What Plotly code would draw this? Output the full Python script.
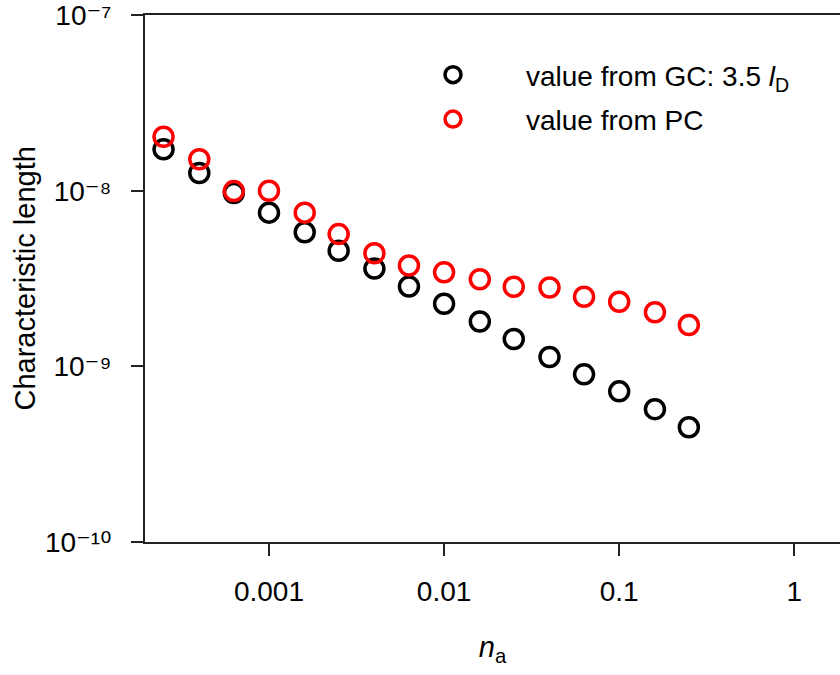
import plotly.graph_objects as go

# Data
n_a = [0.00025, 0.0004, 0.00063, 0.001, 0.0016, 0.0025, 0.004, 0.0063,
       0.01, 0.016, 0.025, 0.04, 0.063, 0.1, 0.16, 0.25]
gc_values = [1.72e-8, 1.26e-8, 9.7e-9, 7.5e-9, 5.8e-9, 4.55e-9, 3.6e-9, 2.85e-9,
             2.27e-9, 1.8e-9, 1.43e-9, 1.13e-9, 9.0e-10, 7.2e-10, 5.7e-10, 4.5e-10]
pc_values = [2.03e-8, 1.51e-8, 9.95e-9, 1.0e-8, 7.5e-9, 5.66e-9, 4.4e-9, 3.75e-9,
             3.43e-9, 3.13e-9, 2.84e-9, 2.81e-9, 2.49e-9, 2.33e-9, 2.03e-9, 1.72e-9]

x_tickvals = [0.001, 0.01, 0.1, 1]
x_ticktext = ["0.001", "0.01", "0.1", "1"]
y_tickvals = [1e-10, 1e-9, 1e-8, 1e-7]
y_ticktext = ["10⁻¹⁰", "10⁻⁹", "10⁻⁸", "10⁻⁷"]
y_title = "Characteristic length"
x_title = "<i>n</i><sub>a</sub>"

FONT = "Liberation Sans, Arial, DejaVu Sans, sans-serif"
W, H = 840, 675
L, R, T, B = 145, 0, 15, 133

fig = go.Figure()
fig.add_trace(go.Scatter(
    x=n_a, y=gc_values, mode="markers", name="value from GC: 3.5 <i>l</i><sub>D</sub>",
    legendgroup="gc",
    marker=dict(symbol="circle-open", size=19, color="#000000", line=dict(width=3.5, color="#000000")),
))
fig.add_trace(go.Scatter(
    x=n_a, y=pc_values, mode="markers", name="value from PC",
    legendgroup="pc",
    marker=dict(symbol="circle-open", size=19, color="#ff0000", line=dict(width=3.5, color="#ff0000")),
))

axis_line = dict(showline=True, linecolor="#222222", linewidth=2, showgrid=False, zeroline=False,
                 ticks="outside", ticklen=12, tickwidth=2, tickcolor="#222222",
                 ticklabeloverflow="allow",
                 tickfont=dict(family=FONT, size=28, color="#000000"))

fig.update_layout(
    width=W, height=H,
    margin=dict(l=L, r=R, t=T, b=B, autoexpand=False),
    paper_bgcolor="white", plot_bgcolor="white",
    font=dict(family=FONT, size=28, color="#000000"),
    showlegend=True,
    legend=dict(xref="container", yref="container", x=380 / W, y=1 - 50 / H,
                xanchor="left", yanchor="top", bgcolor="rgba(0,0,0,0)",
                font=dict(family=FONT, size=28, color="#000000"),
                itemwidth=136, tracegroupgap=5),
    xaxis=dict(type="log", range=[-3.708, 0.261], tickvals=x_tickvals, ticktext=x_ticktext,
               mirror=True, ticklabelstandoff=11,
               title=dict(text=x_title, font=dict(family=FONT, size=29), standoff=31),
               **axis_line),
    yaxis=dict(type="log", range=[-10.0005, -6.9995], tickvals=y_tickvals, ticktext=y_ticktext,
               ticklabelstandoff=14,
               **axis_line),
)

fig.add_annotation(
    text=y_title, textangle=-90, showarrow=False,
    xref="paper", yref="paper",
    x=(24 - L) / (W - L - R), y=0.5, xanchor="center", yanchor="middle",
    font=dict(family=FONT, size=29, color="#000000"),
)

fig.write_html("out.html")
